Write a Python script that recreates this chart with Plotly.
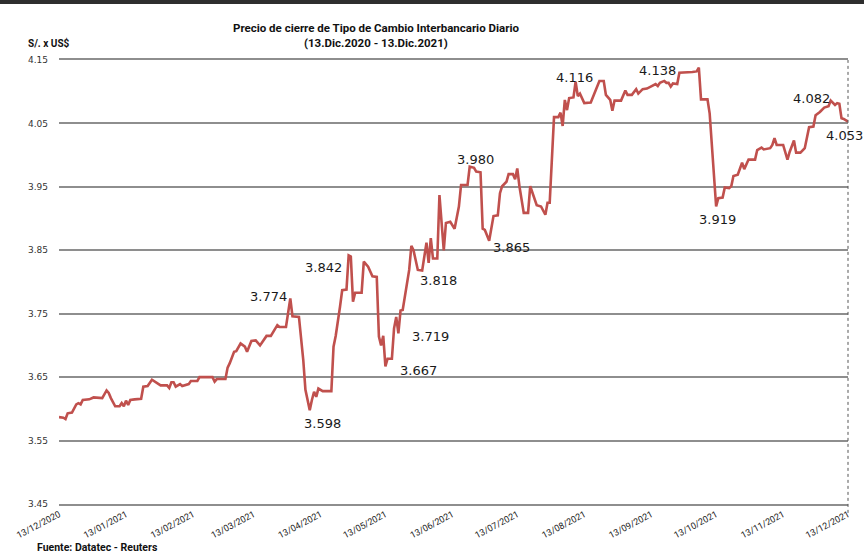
import plotly.graph_objects as go

# ---- data ----
dates = [
    "2020-12-13", "2020-12-15", "2020-12-16", "2020-12-17", "2020-12-19", "2020-12-21", "2020-12-22",
    "2020-12-23", "2020-12-24", "2020-12-27", "2020-12-29", "2020-12-31", "2021-01-02", "2021-01-04",
    "2021-01-05", "2021-01-06", "2021-01-08", "2021-01-10", "2021-01-11", "2021-01-12", "2021-01-13",
    "2021-01-14", "2021-01-15", "2021-01-17", "2021-01-20", "2021-01-21", "2021-01-23", "2021-01-25",
    "2021-01-26", "2021-01-29", "2021-02-01", "2021-02-02", "2021-02-03", "2021-02-04", "2021-02-05",
    "2021-02-07", "2021-02-08", "2021-02-11", "2021-02-12", "2021-02-15", "2021-02-16", "2021-02-17",
    "2021-02-22", "2021-02-23", "2021-02-24", "2021-02-28", "2021-03-01", "2021-03-02", "2021-03-04",
    "2021-03-05", "2021-03-07", "2021-03-09", "2021-03-10", "2021-03-12", "2021-03-14", "2021-03-16",
    "2021-03-19", "2021-03-21", "2021-03-24", "2021-03-25", "2021-03-28", "2021-03-30", "2021-03-31",
    "2021-04-03", "2021-04-05", "2021-04-06", "2021-04-08", "2021-04-09", "2021-04-10", "2021-04-11",
    "2021-04-12", "2021-04-14", "2021-04-18", "2021-04-19", "2021-04-20", "2021-04-22", "2021-04-23",
    "2021-04-25", "2021-04-26", "2021-04-27", "2021-04-28", "2021-04-29", "2021-05-02", "2021-05-03",
    "2021-05-05", "2021-05-07", "2021-05-09", "2021-05-10", "2021-05-11", "2021-05-12", "2021-05-13",
    "2021-05-14", "2021-05-16", "2021-05-17", "2021-05-18", "2021-05-19", "2021-05-20", "2021-05-21",
    "2021-05-23", "2021-05-24", "2021-05-25", "2021-05-26", "2021-05-28", "2021-05-30", "2021-06-01",
    "2021-06-02", "2021-06-03", "2021-06-04", "2021-06-06", "2021-06-07", "2021-06-09", "2021-06-10",
    "2021-06-12", "2021-06-14", "2021-06-16", "2021-06-17", "2021-06-20", "2021-06-21", "2021-06-23",
    "2021-06-24", "2021-06-26", "2021-06-27", "2021-06-28", "2021-06-30", "2021-07-02", "2021-07-04",
    "2021-07-05", "2021-07-06", "2021-07-08", "2021-07-09", "2021-07-11", "2021-07-12", "2021-07-13",
    "2021-07-14", "2021-07-16", "2021-07-18", "2021-07-19", "2021-07-20", "2021-07-22", "2021-07-24",
    "2021-07-26", "2021-07-27", "2021-07-28", "2021-07-30", "2021-08-01", "2021-08-02", "2021-08-03",
    "2021-08-04", "2021-08-05", "2021-08-06", "2021-08-08", "2021-08-09", "2021-08-10", "2021-08-11",
    "2021-08-13", "2021-08-16", "2021-08-17", "2021-08-20", "2021-08-22", "2021-08-23", "2021-08-25",
    "2021-08-26", "2021-08-27", "2021-08-30", "2021-09-01", "2021-09-02", "2021-09-04", "2021-09-06",
    "2021-09-07", "2021-09-09", "2021-09-11", "2021-09-13", "2021-09-14", "2021-09-15", "2021-09-16",
    "2021-09-17", "2021-09-19", "2021-09-20", "2021-09-21", "2021-09-22", "2021-09-23", "2021-09-25",
    "2021-09-26", "2021-09-29", "2021-10-02", "2021-10-04", "2021-10-05", "2021-10-06", "2021-10-09",
    "2021-10-10", "2021-10-11", "2021-10-12", "2021-10-13", "2021-10-14", "2021-10-16", "2021-10-17",
    "2021-10-19", "2021-10-20", "2021-10-21", "2021-10-23", "2021-10-25", "2021-10-26", "2021-10-28",
    "2021-10-31", "2021-11-01", "2021-11-03", "2021-11-04", "2021-11-07", "2021-11-08", "2021-11-09",
    "2021-11-10", "2021-11-13", "2021-11-15", "2021-11-16", "2021-11-18", "2021-11-19", "2021-11-21",
    "2021-11-23", "2021-11-24", "2021-11-25", "2021-11-27", "2021-11-28", "2021-11-30", "2021-12-02",
    "2021-12-04", "2021-12-05", "2021-12-07", "2021-12-08", "2021-12-09", "2021-12-10", "2021-12-11",
    "2021-12-13",
]
rates = [
    3.587, 3.586, 3.584, 3.593, 3.594, 3.607, 3.609,
    3.607, 3.614, 3.615, 3.618, 3.617, 3.617, 3.629,
    3.625, 3.617, 3.604, 3.604, 3.609, 3.604, 3.613,
    3.606, 3.614, 3.615, 3.616, 3.635, 3.636, 3.646,
    3.644, 3.637, 3.637, 3.633, 3.642, 3.642, 3.635,
    3.639, 3.636, 3.639, 3.644, 3.644, 3.650, 3.650,
    3.650, 3.643, 3.647, 3.647, 3.665, 3.672, 3.690,
    3.691, 3.703, 3.698, 3.690, 3.707, 3.708, 3.700,
    3.715, 3.715, 3.732, 3.729, 3.729, 3.774, 3.746,
    3.745, 3.677, 3.630, 3.598, 3.614, 3.627, 3.619,
    3.632, 3.628, 3.628, 3.698, 3.715, 3.761, 3.787,
    3.788, 3.842, 3.840, 3.769, 3.783, 3.783, 3.832,
    3.824, 3.809, 3.808, 3.714, 3.700, 3.715, 3.667,
    3.679, 3.679, 3.727, 3.745, 3.719, 3.755, 3.756,
    3.803, 3.819, 3.857, 3.850, 3.819, 3.818, 3.862,
    3.830, 3.869, 3.837, 3.837, 3.937, 3.850, 3.893,
    3.895, 3.884, 3.919, 3.953, 3.953, 3.982, 3.980,
    3.974, 3.973, 3.884, 3.882, 3.865, 3.904, 3.905,
    3.940, 3.951, 3.958, 3.970, 3.970, 3.962, 3.979,
    3.951, 3.909, 3.909, 3.951, 3.942, 3.921, 3.919,
    3.906, 3.925, 3.925, 4.060, 4.060, 4.067, 4.046,
    4.087, 4.071, 4.090, 4.091, 4.116, 4.093, 4.097,
    4.082, 4.083, 4.092, 4.117, 4.117, 4.095, 4.087,
    4.070, 4.086, 4.086, 4.102, 4.095, 4.095, 4.104,
    4.097, 4.104, 4.105, 4.108, 4.110, 4.112, 4.109,
    4.114, 4.117, 4.114, 4.114, 4.108, 4.113, 4.112,
    4.130, 4.130, 4.131, 4.132, 4.138, 4.088, 4.088,
    4.066, 4.013, 3.961, 3.919, 3.932, 3.933, 3.949,
    3.948, 3.951, 3.967, 3.969, 3.988, 3.978, 3.993,
    3.993, 4.008, 4.012, 4.009, 4.011, 4.016, 4.027,
    4.016, 4.016, 3.993, 4.005, 4.023, 4.004, 4.004,
    4.011, 4.027, 4.044, 4.045, 4.063, 4.068, 4.075,
    4.077, 4.086, 4.079, 4.082, 4.081, 4.058, 4.057,
    4.053,
]

# labelled points
label_dates = ["2021-03-30", "2021-04-08", "2021-04-26", "2021-05-13", "2021-05-19", "2021-05-30",
               "2021-06-23", "2021-06-30", "2021-08-09", "2021-10-05", "2021-10-13", "2021-12-08",
               "2021-12-13"]
label_values = [3.774, 3.598, 3.842, 3.667, 3.719, 3.818, 3.980, 3.865, 4.116, 4.138, 3.919, 4.082, 4.053]
# pixel offsets of each label text from its point (style)
label_shift_x = [-22, 13, -25, 33, 32, 16, 1, 22, -1, -41, 1, -26, -4]
label_shift_y = [2, -13, -12, -4, -3, -10, 8, -7, 4, -3, -13, 5, -14]

tick_dates = ["2020-12-13", "2021-01-13", "2021-02-13", "2021-03-13", "2021-04-13", "2021-05-13",
              "2021-06-13", "2021-07-13", "2021-08-13", "2021-09-13", "2021-10-13", "2021-11-13",
              "2021-12-13"]
tick_labels = ["13/12/2020", "13/01/2021", "13/02/2021", "13/03/2021", "13/04/2021", "13/05/2021",
               "13/06/2021", "13/07/2021", "13/08/2021", "13/09/2021", "13/10/2021", "13/11/2021",
               "13/12/2021"]
y_ticks = [3.45, 3.55, 3.65, 3.75, 3.85, 3.95, 4.05, 4.15]

title_line1 = "Precio de cierre de Tipo de Cambio Interbancario Diario"
title_line2 = "(13.Dic.2020 - 13.Dic.2021)"
y_title = "S/. x US$"
source_text = "Fuente: Datatec - Reuters"

# ---- figure ----
fig = go.Figure()
fig.add_trace(go.Scatter(
    x=dates, y=rates, mode="lines",
    line=dict(color="#C0504D", width=2.6),
    hoverinfo="x+y", showlegend=False,
))

grid_col = "#8e8e8e"
label_font = dict(family="DejaVu Sans, Verdana, sans-serif", size=13, color="#1a1a1a")
annotations = []
for d, v, sx, sy in zip(label_dates, label_values, label_shift_x, label_shift_y):
    annotations.append(dict(
        x=d, y=v, xref="x", yref="y", text=f"{v:.3f}", showarrow=False,
        xshift=sx, yshift=sy, font=label_font, xanchor="center", yanchor="middle",
    ))

bold_font = "Roboto, Liberation Sans, sans-serif"
annotations += [
    dict(text=f"<b>{title_line1}</b>", xref="paper", yref="paper", x=0.402, y=1.073,
         showarrow=False, font=dict(family=bold_font, size=11.5, color="#111"), xanchor="center",
         yanchor="middle"),
    dict(text=f"<b>{title_line2}</b>", xref="paper", yref="paper", x=0.402, y=1.038,
         showarrow=False, font=dict(family=bold_font, size=11.5, color="#111"), xanchor="center",
         yanchor="middle"),
    dict(text=f"<b>{y_title}</b>", xref="paper", yref="paper", x=-0.042, y=1.038,
         showarrow=False, font=dict(family=bold_font, size=10, color="#111"), xanchor="left",
         yanchor="middle"),
    dict(text=f"<b>{source_text}</b>", xref="paper", yref="paper", x=-0.031, y=-0.099,
         showarrow=False, font=dict(family=bold_font, size=10.5, color="#111"), xanchor="left",
         yanchor="middle"),
]

shapes = [
    # dotted right border of the plot area
    dict(type="line", xref="paper", yref="paper", x0=1, x1=1, y0=-0.02, y1=1,
         line=dict(color="#555", width=1, dash="dot")),
    # dark frame band at the very top of the picture
    dict(type="rect", xref="paper", yref="paper", x0=-0.08, x1=1.03, y0=1.126, y1=1.14,
         line=dict(width=0), fillcolor="#2e2e2e"),
]

fig.update_layout(
    width=864, height=556,
    margin=dict(l=59, r=16, t=60, b=52),
    paper_bgcolor="white", plot_bgcolor="white",
    annotations=annotations, shapes=shapes,
    xaxis=dict(
        type="date", range=["2020-12-13", "2021-12-13"],
        tickvals=tick_dates, ticktext=tick_labels, tickangle=-28,
        showgrid=False, showline=True, linecolor=grid_col, linewidth=1.6, mirror=True,
        ticks="", tickfont=dict(family=bold_font, size=9, color="#222"),
        zeroline=False,
    ),
    yaxis=dict(
        range=[3.45, 4.15], tickvals=y_ticks, tickformat=".2f",
        showgrid=True, gridcolor=grid_col, gridwidth=1.6,
        showline=False, zeroline=False, ticks="",
        ticklabelstandoff=10,
        tickfont=dict(family="DejaVu Sans, Verdana, sans-serif", size=9, color="#333"),
    ),
)

fig.write_html("out.html", config={"displayModeBar": False},
               post_script="document.body.style.margin='0';document.body.style.overflow='hidden';")
